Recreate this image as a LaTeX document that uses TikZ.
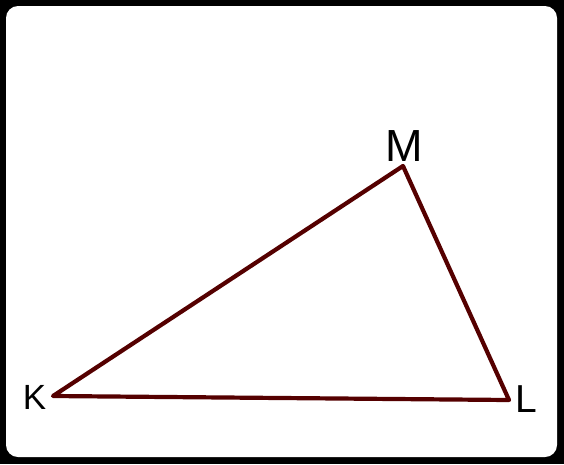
\documentclass[tikz,border=0pt]{standalone}
\usepackage{fontspec}
\setmainfont{Liberation Sans}
\tikzset{
  side/.style={draw={rgb,255:red,85;green,0;blue,0}, line width=4.2pt, line join=round, line cap=round},
  vlabel/.style={inner sep=0pt}
}
\begin{document}
\begin{tikzpicture}[x=1pt,y=-1pt]
  % frame
  \fill[black] (0,0) rectangle (564,464);
  \fill[white, rounded corners=12pt] (6,6) rectangle (557,457);
  % vertices
  \coordinate (K) at (53,396);
  \coordinate (M) at (403,166);
  \coordinate (L) at (509,400);
  % triangle
  \draw[side] (K) -- (M) -- (L) -- cycle;
  % labels
  \node[vlabel, font=\fontsize{35}{35}\selectfont] (labK) at (34.5,397.5) {K};
  \node[vlabel, font=\fontsize{45}{45}\selectfont] (labM) at (404.5,146) {M};
  \node[vlabel, font=\fontsize{39}{39}\selectfont] (labL) at (526,399) {L};
\end{tikzpicture}
\end{document}
